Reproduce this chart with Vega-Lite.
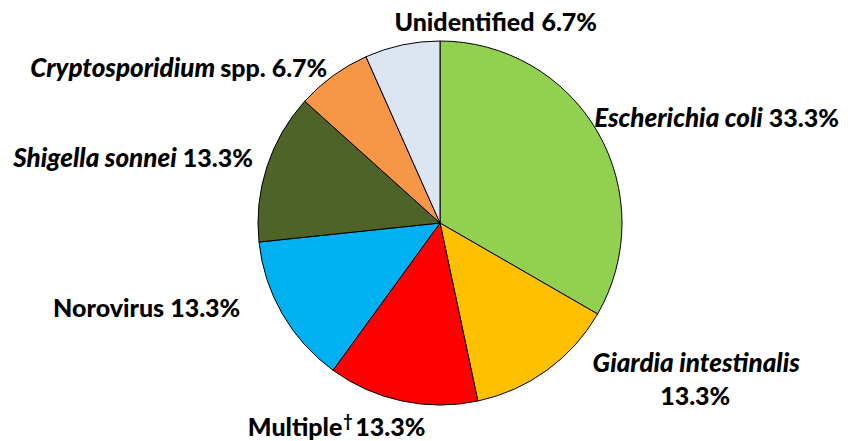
{
  "$schema": "https://vega.github.io/schema/vega-lite/v6.json",
  "width": 816,
  "height": 436,
  "autosize": {"type": "none"},
  "padding": {"left": 32, "top": 5, "right": 0, "bottom": 0},
  "background": "white",
  "config": {
    "view": {"stroke": null},
    "text": {"font": "Lato", "fontSize": 25, "fontWeight": 900, "color": "black", "baseline": "alphabetic"}
  },
  "data": {
    "values": [
      {"cat": "Escherichia coli", "n": 5, "order": 1, "label1": "Escherichia coli", "label2": "33.3%", "sup": ""},
      {"cat": "Giardia intestinalis", "n": 2, "order": 2, "label1": "Giardia intestinalis", "label2": "13.3%", "sup": ""},
      {"cat": "Multiple", "n": 2, "order": 3, "label1": "Multiple", "label2": "13.3%", "sup": "†"},
      {"cat": "Norovirus", "n": 2, "order": 4, "label1": "Norovirus", "label2": "13.3%", "sup": ""},
      {"cat": "Shigella sonnei", "n": 2, "order": 5, "label1": "Shigella sonnei", "label2": "13.3%", "sup": ""},
      {"cat": "Cryptosporidium spp.", "n": 1, "order": 6, "label1": "Cryptosporidium", "label2": "spp. 6.7%", "sup": ""},
      {"cat": "Unidentified", "n": 1, "order": 7, "label1": "Unidentified", "label2": "6.7%", "sup": ""}
    ]
  },
  "encoding": {
    "theta": {"field": "n", "type": "quantitative", "stack": true},
    "order": {"field": "order", "type": "quantitative"},
    "detail": {"field": "cat", "type": "nominal"}
  },
  "layer": [
    {
      "mark": {"type": "arc", "outerRadius": 182, "stroke": "black", "strokeWidth": 1},
      "encoding": {
        "color": {
          "field": "cat",
          "type": "nominal",
          "scale": {
            "domain": ["Escherichia coli", "Giardia intestinalis", "Multiple", "Norovirus", "Shigella sonnei", "Cryptosporidium spp.", "Unidentified"],
            "range": ["#92D050", "#FFC000", "#FF0000", "#00B0F0", "#4F6228", "#F79646", "#DCE6F2"]
          },
          "legend": null
        }
      }
    },
    {
      "mark": {"type": "text", "radius": 210, "align": "right", "fontStyle": "italic", "fontSize": 26, "dx": 141, "dy": 9},
      "encoding": {"text": {"condition": {"test": "datum.cat === 'Escherichia coli'", "field": "label1"}, "value": ""}}
    },
    {
      "mark": {"type": "text", "radius": 210, "align": "left", "dx": 147, "dy": 9},
      "encoding": {"text": {"condition": {"test": "datum.cat === 'Escherichia coli'", "field": "label2"}, "value": ""}}
    },
    {
      "mark": {"type": "text", "radius": 230, "align": "center", "fontStyle": "italic", "fontSize": 26, "dx": 121, "dy": -37},
      "encoding": {"text": {"condition": {"test": "datum.cat === 'Giardia intestinalis'", "field": "label1"}, "value": ""}}
    },
    {
      "mark": {"type": "text", "radius": 230, "align": "center", "dx": 120, "dy": -4},
      "encoding": {"text": {"condition": {"test": "datum.cat === 'Giardia intestinalis'", "field": "label2"}, "value": ""}}
    },
    {
      "mark": {"type": "text", "radius": 215, "align": "right", "dx": -53, "dy": 3},
      "encoding": {"text": {"condition": {"test": "datum.cat === 'Multiple'", "field": "label1"}, "value": ""}}
    },
    {
      "mark": {"type": "text", "radius": 215, "align": "left", "fontSize": 16, "dx": -52, "dy": -6},
      "encoding": {"text": {"condition": {"test": "datum.cat === 'Multiple'", "field": "sup"}, "value": ""}}
    },
    {
      "mark": {"type": "text", "radius": 215, "align": "left", "dx": -40, "dy": 3},
      "encoding": {"text": {"condition": {"test": "datum.cat === 'Multiple'", "field": "label2"}, "value": ""}}
    },
    {
      "mark": {"type": "text", "radius": 210, "align": "right", "dx": -94, "dy": -11},
      "encoding": {"text": {"condition": {"test": "datum.cat === 'Norovirus'", "field": "label1"}, "value": ""}}
    },
    {
      "mark": {"type": "text", "radius": 210, "align": "left", "dx": -88, "dy": -11},
      "encoding": {"text": {"condition": {"test": "datum.cat === 'Norovirus'", "field": "label2"}, "value": ""}}
    },
    {
      "mark": {"type": "text", "radius": 200, "align": "right", "fontStyle": "italic", "fontSize": 26, "dx": -73, "dy": 6},
      "encoding": {"text": {"condition": {"test": "datum.cat === 'Shigella sonnei'", "field": "label1"}, "value": ""}}
    },
    {
      "mark": {"type": "text", "radius": 200, "align": "left", "dx": -67, "dy": 6},
      "encoding": {"text": {"condition": {"test": "datum.cat === 'Shigella sonnei'", "field": "label2"}, "value": ""}}
    },
    {
      "mark": {"type": "text", "radius": 192, "align": "right", "fontStyle": "italic", "fontSize": 26, "dx": -112, "dy": 9},
      "encoding": {"text": {"condition": {"test": "datum.cat === 'Cryptosporidium spp.'", "field": "label1"}, "value": ""}}
    },
    {
      "mark": {"type": "text", "radius": 192, "align": "left", "dx": -107, "dy": 9},
      "encoding": {"text": {"condition": {"test": "datum.cat === 'Cryptosporidium spp.'", "field": "label2"}, "value": ""}}
    },
    {
      "mark": {"type": "text", "radius": 200, "align": "right", "dx": 136, "dy": 4},
      "encoding": {"text": {"condition": {"test": "datum.cat === 'Unidentified'", "field": "label1"}, "value": ""}}
    },
    {
      "mark": {"type": "text", "radius": 200, "align": "left", "dx": 143, "dy": 4},
      "encoding": {"text": {"condition": {"test": "datum.cat === 'Unidentified'", "field": "label2"}, "value": ""}}
    }
  ]
}
